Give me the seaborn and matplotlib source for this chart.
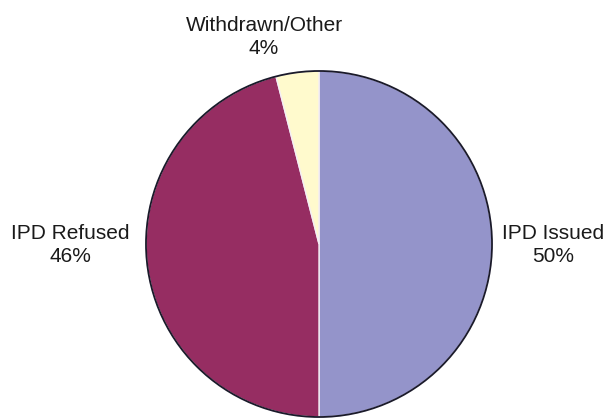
'''
Pie chart of IPD application outcomes
'''

import seaborn as sns
import matplotlib.pyplot as plt
from matplotlib.patches import Circle

labels = ['IPD Issued', 'IPD Refused', 'Withdrawn/Other']
shares = [50, 46, 4]
colors = ['#9494CA', '#962D62', '#FFFACD']

# label anchor points in pixel coords (x, y from top)
label_pos = [(553, 245), (70, 245), (264, 37)]


def plot_pie():
    sns.set_style('white')
    plt.rcParams['font.family'] = ['Liberation Sans', 'DejaVu Sans']
    fig = plt.figure(figsize=(6.08, 4.19), dpi=100)
    ax = fig.add_axes([0, 0, 1, 1])

    cx, cy, r = 319, 419 - 244, 173
    ax.pie(shares, colors=sns.color_palette(colors), startangle=90,
           counterclock=False, center=(cx, cy), radius=r,
           wedgeprops={'edgecolor': '#f4eef4', 'linewidth': 1.0},
           frame=True)
    ax.add_patch(Circle((cx, cy), r, fill=False, edgecolor='#1a1a2a',
                        linewidth=1.3))
    ax.set_xlim(0, 608)
    ax.set_ylim(0, 419)
    ax.set_aspect('equal')
    ax.axis('off')

    for name, val, (x, y) in zip(labels, shares, label_pos):
        ax.text(x, 419 - y, f'{name}\n{val}%', ha='center', va='center',
                fontsize=15, color='#1a1a1a', linespacing=1.25)

    fig.savefig('out.png', dpi=100, facecolor='white')


def main():
    plot_pie()


if __name__ == '__main__':
    main()
